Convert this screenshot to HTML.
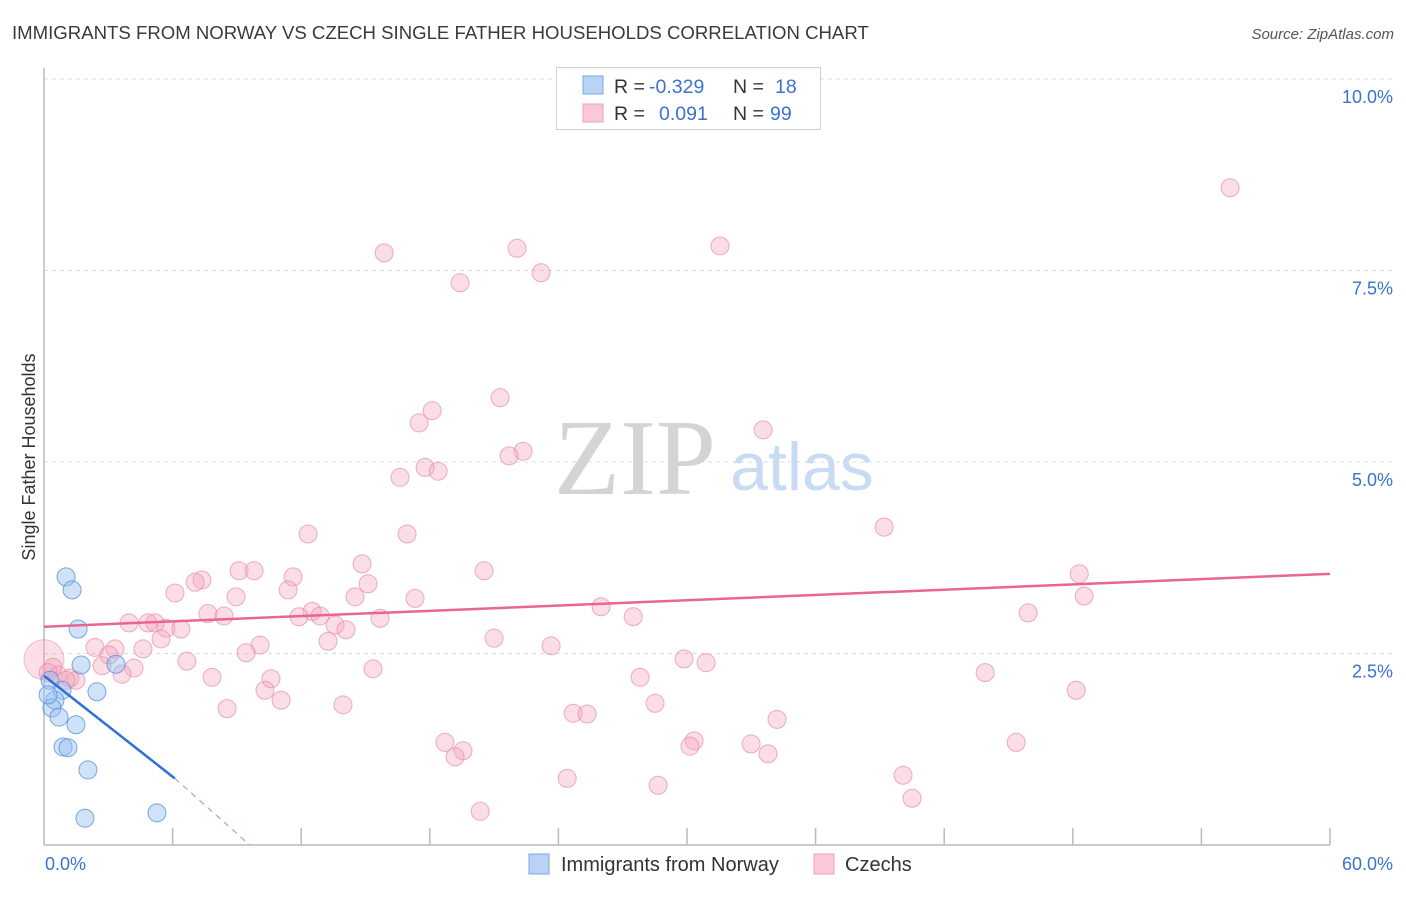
<!DOCTYPE html>
<html><head><meta charset="utf-8"><style>
body{margin:0;background:#fff;font-family:"Liberation Sans",sans-serif;}
svg text{font-family:"Liberation Sans",sans-serif;}
</style></head><body>
<svg width="1406" height="892" viewBox="0 0 1406 892">
<text x="12" y="39" font-size="18.6" fill="#3a3a3a">IMMIGRANTS FROM NORWAY VS CZECH SINGLE FATHER HOUSEHOLDS CORRELATION CHART</text>
<text x="1394" y="39" font-size="15" fill="#555" font-style="italic" text-anchor="end">Source: ZipAtlas.com</text>
<g id="grid"></g>
<g id="axes"></g>
<text x="635" y="494" font-size="108" fill="#d4d4d4" text-anchor="middle" style="font-family:'Liberation Serif',serif">ZIP</text>
<text x="802" y="490" font-size="68" fill="#c9dbf3" text-anchor="middle">atlas</text>
<g id="pts"></g>
<g id="trend"></g>
<text x="35" y="457" font-size="18" fill="#333" text-anchor="middle" transform="rotate(-90 35 457)">Single Father Households</text>
<g>
<rect x="556.5" y="67.5" width="264" height="62" fill="#fff" stroke="#d0d0d0"/>
<rect x="583" y="76" width="20" height="18" fill="#b8d3f6" stroke="#7aa8e6"/>
<rect x="583" y="104" width="20" height="18" fill="#fac8d8" stroke="#eba3bb"/>
<text x="614" y="93" font-size="19.5" fill="#333">R =</text>
<text x="649" y="93" font-size="19.5" fill="#3a72cc">-0.329</text>
<text x="733" y="93" font-size="19.5" fill="#333">N =</text>
<text x="775" y="93" font-size="19.5" fill="#3a72cc">18</text>
<text x="614" y="120" font-size="19.5" fill="#333">R =</text>
<text x="659" y="120" font-size="19.5" fill="#3a72cc">0.091</text>
<text x="733" y="120" font-size="19.5" fill="#333">N =</text>
<text x="770" y="120" font-size="19.5" fill="#3a72cc">99</text>
</g>
<g>
<rect x="529" y="854" width="20" height="20" fill="#b8d3f6" stroke="#7aa8e6"/>
<text x="561" y="871" font-size="20" fill="#333">Immigrants from Norway</text>
<rect x="814" y="854" width="20" height="20" fill="#fac8d8" stroke="#eba3bb"/>
<text x="845" y="871" font-size="20" fill="#333">Czechs</text>
</g>
</svg>
<script>
const yTicks=[2.5,5.0,7.5,10.0];
const xTicks=[0,6,12,18,24,30,36,42,48,54,60];
const blueX=[1.03,1.31,1.59,3.36,1.73,0.28,0.84,2.47,0.51,0.37,0.70,1.49,0.89,1.12,2.05,1.91,5.27,0.19];
const blueY=[3.50,3.33,2.82,2.36,2.35,2.15,2.02,2.00,1.89,1.79,1.67,1.57,1.28,1.27,0.98,0.35,0.42,1.96];
const pinkX=[55.34,15.87,22.07,31.54,23.19,19.41,21.28,18.11,17.50,33.55,22.35,21.70,17.78,18.39,16.61,39.20,12.32,16.94,14.84,20.53,48.30,9.10,9.80,7.37,7.05,11.62,6.11,15.12,8.96,14.51,11.39,48.53,17.31,25.99,7.65,8.40,12.51,12.88,11.90,15.68,27.49,45.92,3.97,4.85,5.18,5.69,6.39,13.58,14.09,21.00,5.46,13.25,10.08,2.38,3.31,4.62,9.43,3.03,23.66,6.67,29.86,30.89,2.71,4.20,3.64,15.35,7.84,10.59,27.81,43.91,10.31,48.16,11.06,8.54,13.95,28.51,24.69,25.34,34.20,18.71,19.55,19.18,30.33,30.14,32.99,33.78,45.36,24.41,28.65,40.08,40.50,20.35,0.42,0.65,1.21,1.49,1.03,0.19];
const pinkY=[8.58,7.73,7.79,7.82,7.47,7.34,5.84,5.67,5.51,5.42,5.14,5.08,4.93,4.88,4.80,4.15,4.06,4.06,3.67,3.58,3.54,3.58,3.58,3.46,3.43,3.50,3.29,3.41,3.24,3.24,3.33,3.25,3.22,3.11,3.02,2.99,3.05,2.99,2.98,2.96,2.98,3.03,2.90,2.90,2.90,2.83,2.82,2.87,2.81,2.70,2.69,2.66,2.61,2.58,2.56,2.56,2.51,2.48,2.60,2.40,2.43,2.38,2.34,2.31,2.23,2.30,2.19,2.17,2.19,2.25,2.02,2.02,1.89,1.78,1.83,1.85,1.72,1.71,1.64,1.34,1.23,1.15,1.36,1.29,1.32,1.19,1.34,0.87,0.78,0.91,0.61,0.44,2.32,2.22,2.18,2.15,2.15,2.25];
const bigPink=[0,2.42];
const pinkTrend=[2.85,3.54];
const blueTrend=[2.21,0.87,6.1,9.6];
const X0=44,X1=1330,Y0=845,Y1=79;
const sx=v=>X0+v/60*(X1-X0);
const sy=v=>Y0-v/10*(Y0-Y1);
const NS="http://www.w3.org/2000/svg";
function mk(tag,attrs,parent){const e=document.createElementNS(NS,tag);for(const k in attrs)e.setAttribute(k,attrs[k]);parent.appendChild(e);return e;}
const grid=document.getElementById('grid'),axes=document.getElementById('axes'),pts=document.getElementById('pts'),trend=document.getElementById('trend');
yTicks.forEach(t=>{
 const l=mk('line',{x1:X0,x2:1395,y1:sy(t),y2:sy(t),stroke:'#dcdcdc','stroke-dasharray':'4,4'},grid);
 
 
 const tx=mk('text',{x:1393,y:sy(t)+24,'font-size':18,fill:'#3a72cc','text-anchor':'end'},grid);
 tx.textContent=t.toFixed(1)+'%';
 
 
});
mk('line',{x1:X0,x2:X0,y1:68,y2:Y0,stroke:'#bbb','stroke-width':1.5},axes);
mk('line',{x1:X0,x2:X1,y1:Y0,y2:Y0,stroke:'#bbb','stroke-width':1.5},axes);
xTicks.forEach(t=>{if(t===0)return;
 const l=mk('line',{x1:sx(t),x2:sx(t),y1:828,y2:Y0,stroke:'#bbb','stroke-width':1.5},axes);
 
 
});
const xl0=mk('text',{x:45,y:870,'font-size':18,fill:'#3a72cc'},axes);xl0.textContent=xTicks[0].toFixed(1)+'%';


const xl1=mk('text',{x:1393,y:870,'font-size':18,fill:'#3a72cc','text-anchor':'end'},axes);xl1.textContent=xTicks[xTicks.length-1].toFixed(1)+'%';


const bp=mk('circle',{cx:sx(bigPink[0]),cy:sy(bigPink[1]),r:20,fill:'rgba(244,160,185,0.35)',stroke:'rgba(232,150,178,0.6)'},pts);


pinkX.forEach((x,i)=>{
 const c=mk('circle',{cx:sx(x),cy:sy(pinkY[i]),r:9,fill:'rgba(244,165,190,0.38)',stroke:'rgba(230,140,170,0.7)','stroke-width':1},pts);
 
 
});
blueX.forEach((x,i)=>{
 const c=mk('circle',{cx:sx(x),cy:sy(blueY[i]),r:9,fill:'rgba(150,190,240,0.45)',stroke:'rgba(90,145,220,0.8)','stroke-width':1},pts);
 
 
});
const pl=mk('line',{x1:sx(0),y1:sy(pinkTrend[0]),x2:sx(60),y2:sy(pinkTrend[1]),stroke:'#e8668f','stroke-width':2.5},trend);


const bl=mk('line',{x1:sx(0),y1:sy(blueTrend[0]),x2:sx(blueTrend[2]),y2:sy(blueTrend[1]),stroke:'#2f6fd6','stroke-width':2.5},trend);


const bd=mk('line',{x1:sx(blueTrend[2]),y1:sy(blueTrend[1]),x2:sx(blueTrend[3]),y2:sy(0),stroke:'#8aaee6','stroke-width':1.2,'stroke-dasharray':'6,5'},trend);


</script>
</body></html>
